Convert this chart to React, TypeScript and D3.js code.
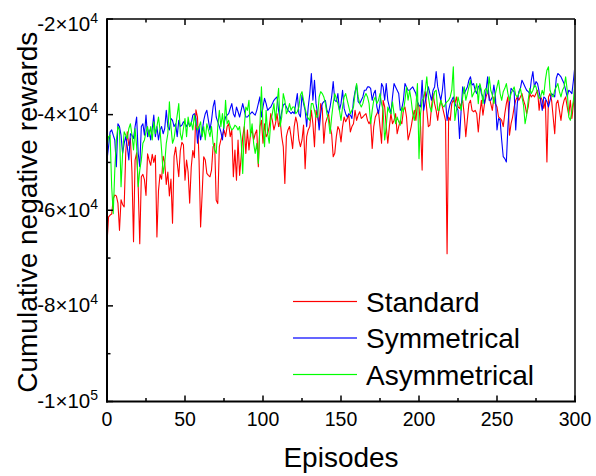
import React from "react";
import * as d3 from "d3";

// values in thousands (x1000 = cumulative negative reward)
const standard = [
  -66.9, -61.4, -61.0, -60.8, -57.6, -56.8, -57.0, -58.5, -64.2, -57.8,
  -58.8, -59.3, -48.0, -43.6, -46.5, -45.0, -52.0, -66.6, -49.5, -48.0,
  -55.0, -67.0, -53.0, -52.5, -53.6, -56.9, -48.2, -49.5, -50.6, -48.3,
  -50.0, -48.5, -65.6, -55.9, -52.5, -53.5, -48.7, -50.0, -54.6, -52.0,
  -57.0, -53.5, -62.7, -48.7, -46.8, -50.0, -53.0, -47.5, -45.8, -46.3,
  -53.7, -49.5, -52.0, -58.5, -51.0, -47.5, -49.0, -39.0, -40.5, -49.5,
  -63.5, -56.5, -48.8, -49.5, -52.3, -52.7, -53.0, -51.6, -46.7, -46.0,
  -57.9, -58.6, -46.7, -45.3, -44.3, -43.2, -44.6, -42.5, -41.9, -44.6,
  -43.2, -53.0, -47.4, -53.7, -45.3, -52.7, -48.8, -44.6, -42.5, -48.1,
  -43.2, -47.4, -44.0, -43.2, -45.3, -44.0, -43.2, -50.9, -42.5, -41.2,
  -46.0, -41.9, -44.6, -44.0, -42.5, -39.8, -41.2, -43.2, -41.9, -39.8,
  -42.5, -41.2, -44.6, -46.7, -54.4, -44.6, -43.2, -42.5, -44.6, -47.1,
  -42.5, -40.5, -41.9, -45.3, -46.7, -45.3, -42.2, -51.3, -44.6, -43.2,
  -42.5, -39.1, -41.9, -46.7, -39.1, -40.5, -41.9, -37.7, -38.7, -46.0,
  -41.9, -40.8, -39.8, -42.5, -44.0, -48.8, -48.1, -44.6, -42.5, -43.2,
  -45.7, -42.5, -40.5, -41.5, -40.8, -40.1, -43.6, -42.5, -41.9, -39.1,
  -41.2, -40.1, -39.4, -40.8, -40.5, -40.1, -39.8, -41.2, -41.9, -41.2,
  -47.1, -42.5, -40.5, -39.8, -39.1, -42.5, -46.0, -37.0, -38.4, -42.5,
  -46.0, -42.5, -39.8, -41.9, -41.2, -39.8, -44.0, -42.5, -41.2, -41.9,
  -39.1, -38.4, -40.5, -45.3, -44.0, -42.5, -40.5, -39.1, -41.2, -37.7,
  -38.4, -42.5, -51.6, -36.3, -35.2, -39.1, -42.5, -42.2, -38.4, -35.6,
  -37.7, -39.1, -41.2, -38.4, -37.0, -38.4, -39.8, -41.2, -69.1, -40.5,
  -41.2, -37.7, -37.0, -37.7, -36.3, -38.4, -38.7, -37.7, -37.0, -40.0,
  -44.6, -41.0, -37.7, -37.0, -39.1, -39.4, -39.1, -39.8, -43.6, -39.8,
  -37.0, -40.1, -37.7, -36.3, -35.2, -36.3, -37.7, -39.1, -36.3, -37.7,
  -38.4, -40.5, -40.8, -41.2, -42.5, -39.8, -37.7, -36.3, -44.3, -41.9,
  -40.5, -38.4, -37.0, -36.3, -37.0, -36.3, -35.6, -37.0, -38.0, -39.8,
  -38.4, -35.6, -36.3, -35.9, -36.3, -35.6, -34.9, -39.1, -36.3, -37.0,
  -38.7, -37.0, -49.9, -36.3, -35.6, -37.0, -40.5, -44.0, -37.7, -37.0,
  -39.1, -41.2, -38.4, -37.0, -36.3, -38.4, -40.1, -37.0, -40.8, -37.7, -35.6,
];

const symmetrical = [
  -49.5, -46.7, -43.6, -43.2, -44.3, -45.3, -50.9, -41.9, -42.5, -44.3,
  -48.1, -46.0, -44.6, -46.7, -49.5, -44.0, -44.3, -45.0, -42.5, -40.5,
  -48.1, -50.9, -42.5, -41.9, -44.3, -40.1, -44.6, -43.2, -45.3, -42.9,
  -40.1, -44.6, -42.5, -45.3, -43.2, -42.5, -44.0, -42.9, -39.1, -42.5,
  -43.2, -40.8, -41.2, -42.5, -41.9, -44.6, -41.2, -42.5, -42.2, -41.5,
  -41.9, -42.5, -41.5, -42.5, -41.9, -40.1, -39.8, -40.8, -46.0, -42.5,
  -45.3, -43.6, -41.2, -39.8, -39.1, -41.2, -43.2, -41.2, -38.4, -37.0,
  -40.5, -41.5, -42.5, -43.6, -45.3, -41.9, -40.5, -40.1, -39.8, -38.7,
  -37.7, -39.8, -40.5, -38.4, -39.4, -40.5, -39.1, -37.7, -39.1, -40.5,
  -40.5, -40.1, -39.8, -39.4, -39.8, -40.1, -39.1, -37.7, -36.3, -40.5,
  -38.4, -36.6, -37.7, -39.1, -38.7, -38.4, -37.7, -37.0, -36.6, -36.3,
  -39.1, -41.2, -39.4, -38.0, -37.7, -38.4, -39.1, -39.4, -39.8, -39.4,
  -39.8, -37.7, -35.6, -39.8, -40.5, -35.9, -37.7, -39.1, -42.5, -38.4,
  -35.6, -31.4, -37.0, -32.8, -37.7, -39.8, -43.2, -39.8, -37.7, -37.3,
  -37.0, -39.1, -39.8, -38.4, -36.3, -33.1, -37.0, -37.3, -35.6, -39.1,
  -37.7, -34.9, -38.7, -39.8, -40.5, -39.8, -40.1, -40.8, -37.0, -35.2,
  -33.8, -37.3, -37.7, -37.0, -36.3, -34.9, -34.9, -34.2, -34.2, -34.5,
  -37.0, -35.6, -34.9, -38.4, -39.8, -37.7, -33.5, -34.2, -37.0, -33.5,
  -37.0, -38.4, -39.8, -36.3, -33.5, -34.2, -34.9, -35.6, -39.1, -38.7,
  -37.0, -33.5, -34.2, -34.9, -34.9, -34.5, -34.2, -34.9, -35.6, -37.3,
  -38.0, -38.4, -32.8, -39.1, -37.3, -35.6, -34.2, -35.6, -37.0, -34.9,
  -34.2, -31.0, -34.2, -35.6, -37.0, -34.9, -31.4, -37.0, -41.2, -39.1,
  -37.7, -37.0, -36.3, -37.7, -38.4, -39.1, -45.0, -39.1, -34.2, -35.6,
  -34.9, -34.2, -32.8, -32.1, -33.8, -33.5, -34.9, -35.6, -34.2, -33.8,
  -35.6, -36.3, -37.7, -34.9, -32.1, -37.0, -37.0, -36.3, -33.8, -36.3,
  -43.2, -40.8, -41.2, -45.3, -48.8, -49.2, -49.9, -42.5, -37.7, -34.5,
  -34.9, -35.2, -43.2, -37.7, -35.2, -34.5, -32.8, -33.5, -34.2, -34.9,
  -35.2, -35.6, -32.8, -31.0, -34.2, -33.1, -33.5, -35.2, -37.0, -39.1,
  -36.3, -36.6, -37.3, -38.4, -37.0, -35.6, -35.9, -36.3, -32.4, -31.4,
  -31.7, -32.1, -32.8, -33.5, -34.9, -36.3, -34.9, -35.2, -35.6, -32.8, -29.6,
];

const asymmetrical = [
  -46.7, -44.6, -44.3, -55.1, -60.7, -51.6, -45.3, -42.5, -43.2, -55.1,
  -48.1, -43.6, -44.3, -45.0, -42.9, -41.9, -44.3, -47.4, -42.9, -46.7,
  -55.1, -51.6, -49.5, -46.0, -45.3, -43.6, -42.5, -44.6, -42.5, -45.3,
  -41.5, -44.0, -42.5, -40.5, -43.2, -47.4, -52.3, -50.2, -46.0, -44.0,
  -37.3, -42.5, -46.0, -45.0, -42.5, -40.1, -37.7, -44.0, -45.3, -42.9,
  -40.8, -44.6, -40.5, -42.5, -41.5, -43.2, -40.1, -42.2, -43.2, -42.5,
  -41.5, -44.6, -42.5, -45.3, -41.9, -43.2, -44.6, -42.5, -46.0, -47.4,
  -48.1, -42.5, -39.1, -42.5, -39.8, -42.9, -37.0, -41.9, -41.2, -42.5,
  -43.2, -42.9, -42.2, -42.5, -43.2, -42.5, -45.3, -52.3, -42.5, -38.4,
  -39.1, -37.0, -44.6, -41.9, -46.0, -48.1, -46.0, -50.2, -42.5, -34.2,
  -42.5, -46.7, -39.1, -44.0, -46.0, -41.2, -39.8, -37.7, -41.2, -37.7,
  -34.5, -42.5, -40.5, -35.6, -37.0, -39.8, -39.1, -37.7, -39.1, -38.4,
  -38.4, -39.8, -39.4, -38.4, -35.9, -35.2, -37.0, -38.7, -40.1, -40.8,
  -41.2, -37.7, -37.7, -39.1, -40.5, -40.5, -36.3, -35.2, -35.6, -36.3,
  -37.7, -39.8, -41.2, -44.0, -40.5, -37.7, -35.6, -36.6, -37.7, -39.1,
  -41.2, -38.4, -36.3, -35.6, -37.0, -38.4, -39.8, -39.1, -38.4, -35.6,
  -33.5, -36.3, -37.7, -38.4, -37.7, -36.3, -35.6, -36.3, -37.7, -41.9,
  -39.1, -37.0, -36.3, -37.7, -37.0, -35.6, -37.7, -39.1, -45.3, -42.5,
  -38.4, -39.4, -39.8, -37.3, -39.8, -41.9, -40.5, -41.5, -42.2, -38.4,
  -39.4, -37.0, -34.2, -37.0, -34.9, -37.0, -39.8, -41.2, -38.4, -33.5,
  -49.2, -39.8, -37.0, -36.6, -34.9, -32.1, -36.3, -38.4, -39.4, -37.0,
  -35.2, -34.9, -39.1, -39.1, -37.0, -38.0, -38.4, -37.7, -37.3, -37.0,
  -36.3, -34.9, -30.0, -41.2, -39.1, -36.3, -37.7, -39.1, -36.3, -34.2,
  -37.0, -35.6, -34.2, -32.8, -36.3, -35.6, -34.9, -33.5, -37.7, -33.5,
  -34.9, -37.7, -34.9, -34.5, -35.6, -32.1, -34.9, -35.9, -37.7, -35.6,
  -34.2, -32.8, -35.6, -37.0, -35.2, -34.5, -33.5, -35.6, -37.0, -35.6,
  -34.9, -34.2, -35.9, -36.3, -35.6, -34.5, -36.3, -38.0, -41.9, -40.1,
  -37.0, -34.5, -35.6, -34.9, -33.8, -34.2, -35.6, -36.6, -36.3, -34.9,
  -35.9, -32.8, -30.7, -30.0, -34.9, -35.9, -36.3, -34.9, -34.2, -33.5,
  -35.2, -36.3, -34.9, -34.2, -32.1, -34.9, -40.5, -41.2, -39.1, -37.0, -32.8,
];

const seriesNames = ["Standard", "Symmetrical", "Asymmetrical"];
const seriesColors = ["#ff0000", "#0000ff", "#00ff00"];
const xMajorTicks = [0, 50, 100, 150, 200, 250, 300];
const xMinorTicks = [25, 75, 125, 175, 225, 275];
const yMajorTicks = [-20000, -40000, -60000, -80000, -100000];
const yMinorTicks = [-30000, -50000, -70000, -90000];
const xDomain = [0, 300];
const yDomain = [-100000, -20000];
const UNIT = 1000;

const W = 596;
const H = 476;
const L = 107;
const R = 575;
const T = 19;
const B = 401.5;
const FONT = "'Liberation Sans', Arial, Helvetica, sans-serif";

function sciParts(v: number) {
  const exp = Math.floor(Math.log10(Math.abs(v)));
  const mant = Math.round(v / Math.pow(10, exp));
  return { mant, exp };
}

export default function App() {
  const x = d3.scaleLinear().domain(xDomain).range([L, R]);
  const y = d3.scaleLinear().domain(yDomain).range([B, T]);
  const line = d3
    .line<number>()
    .x((_, i) => x(i))
    .y((d) => y(d * UNIT));
  const allSeries = [standard, symmetrical, asymmetrical];
  const legendY = [301.5, 338, 374.5];

  return (
    <svg
      width={W}
      height={H}
      style={{ position: "absolute", left: 0, top: 0, display: "block", background: "#fff" }}
      fontFamily={FONT}
    >
      <rect x={0} y={0} width={W} height={H} fill="#fff" />
      {allSeries.map((s, i) => (
        <path key={"s" + i} d={line(s) || ""} fill="none" stroke={seriesColors[i]} strokeWidth={1.1} strokeLinejoin="round" />
      ))}

      {/* frame */}
      <line x1={L} x2={R} y1={T} y2={T} stroke="#000" strokeWidth={1.5} />
      <line x1={R} x2={R} y1={T} y2={B} stroke="#444" strokeWidth={2} />
      <line x1={L} x2={L} y1={T - 0.75} y2={B + 1} stroke="#000" strokeWidth={2} />
      <line x1={L - 1} x2={R + 1} y1={B} y2={B} stroke="#000" strokeWidth={2} />

      {/* x ticks */}
      {xMajorTicks.map((t) => (
        <g key={"xm" + t}>
          <line x1={x(t)} x2={x(t)} y1={B} y2={B - 6} stroke="#000" strokeWidth={1.5} />
          <line x1={x(t)} x2={x(t)} y1={T} y2={T + 6} stroke="#000" strokeWidth={1.5} />
          <text x={x(t)} y={426} fontSize={19.5} textAnchor="middle" fill="#000">
            {t}
          </text>
        </g>
      ))}
      {xMinorTicks.map((t) => (
        <g key={"xn" + t}>
          <line x1={x(t)} x2={x(t)} y1={B} y2={B - 3.5} stroke="#000" strokeWidth={1.5} />
          <line x1={x(t)} x2={x(t)} y1={T} y2={T + 3.5} stroke="#000" strokeWidth={1.5} />
        </g>
      ))}

      {/* y ticks */}
      {yMajorTicks.map((t, i) => {
        const p = sciParts(t);
        const base = y(t) + (i === 0 ? 11.5 : 6.5);
        return (
          <g key={"ym" + t}>
            <line x1={L} x2={L + 6} y1={y(t)} y2={y(t)} stroke="#000" strokeWidth={1.5} />
            <text x={98} y={base} fontSize={20.5} textAnchor="end" fill="#000">
              <tspan>{`${p.mant}×10`}</tspan>
              <tspan fontSize={14} dy={-8}>
                {p.exp}
              </tspan>
            </text>
          </g>
        );
      })}
      {yMinorTicks.map((t) => (
        <line key={"yn" + t} x1={L} x2={L + 3.5} y1={y(t)} y2={y(t)} stroke="#000" strokeWidth={1.5} />
      ))}

      {/* axis titles */}
      <text x={(L + R) / 2} y={467} fontSize={28} textAnchor="middle" fill="#000">
        Episodes
      </text>
      <text
        transform={`translate(37, ${(T + B) / 2 + 2}) rotate(-90)`}
        fontSize={28}
        textAnchor="middle"
        fill="#000"
      >
        Cumulative negative rewards
      </text>

      {/* legend */}
      {seriesNames.map((n, i) => (
        <g key={"lg" + i}>
          <rect x={293} y={legendY[i] - 0.6} width={64} height={1.2} fill={seriesColors[i]} />
          <text x={366} y={legendY[i] + 10} fontSize={28} fill="#000">
            {n}
          </text>
        </g>
      ))}
    </svg>
  );
}
